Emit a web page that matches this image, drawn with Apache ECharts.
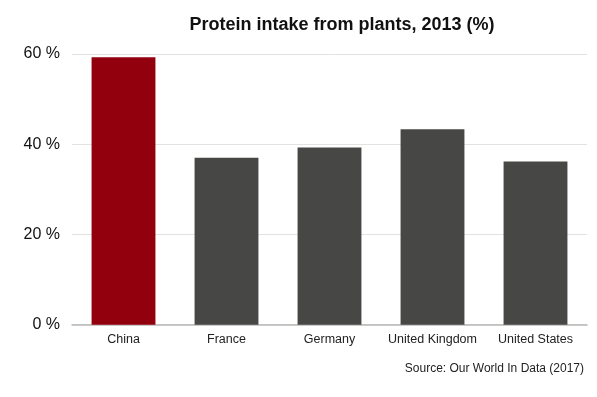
<!DOCTYPE html>
<html>
<head>
<meta charset="utf-8">
<script src="https://cdn.jsdelivr.net/npm/echarts@6/dist/echarts.min.js"></script>
<style>html,body{margin:0;padding:0;background:#fff}#c{width:597px;height:397px}</style>
</head>
<body>
<div id="c"></div>
<script>
const categories = ["China", "France", "Germany", "United Kingdom", "United States"];
const values = [59.3, 37.0, 39.3, 43.3, 36.2];
const barColors = ["#93000d", "#474745", "#474745", "#474745", "#474745"];
const yTicks = [0, 20, 40, 60];
const titleText = "Protein intake from plants, 2013 (%)";
const sourceText = "Source: Our World In Data (2017)";

const chart = echarts.init(document.getElementById('c'), null, {renderer: 'canvas'});
chart.setOption({
  animation: false,
  backgroundColor: '#ffffff',
  title: {
    text: titleText,
    left: 337, top: 11, textAlign: 'center',
    textStyle: {fontFamily: 'Liberation Sans, Arial', fontSize: 18, fontWeight: 'bold', color: '#111'}
  },
  graphic: [{
    type: 'text', right: 13, top: 363,
    style: {text: sourceText, font: '12px "Liberation Sans", Arial', fill: '#222'}
  }],
  grid: {left: 72, right: 10, top: 54, bottom: 72.3, containLabel: false},
  xAxis: {
    type: 'category', data: categories,
    axisLine: {lineStyle: {color: '#b8b8b8', width: 1.5}},
    axisTick: {show: false},
    axisLabel: {fontFamily: 'Liberation Sans, Arial', fontSize: 12.5, color: '#222', margin: 8, interval: 0}
  },
  yAxis: {
    type: 'value', min: 0, max: 60, interval: 20,
    axisLine: {show: false}, axisTick: {show: false},
    splitLine: {lineStyle: {color: '#e2e2e2', width: 1}},
    axisLabel: {fontFamily: 'Liberation Sans, Arial', fontSize: 16, color: '#111', margin: 12,
      formatter: v => yTicks.includes(v) ? v + ' %' : ''}
  },
  series: [{
    type: 'bar', barCategoryGap: '38%',
    data: values.map((v, i) => ({value: v, itemStyle: {color: barColors[i]}}))
  }]
});
</script>
</body>
</html>
